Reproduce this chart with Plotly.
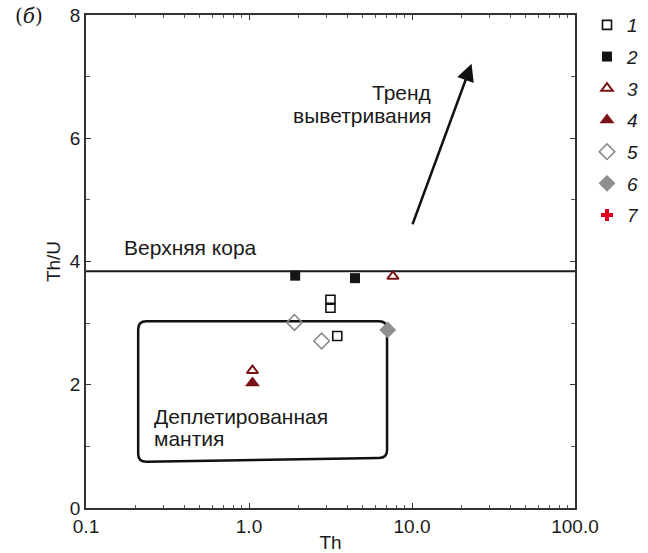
import plotly.graph_objects as go

# Th (ppm) and Th/U for each sample group
th_1 = [3.16, 3.16, 3.48]
thu_1 = [3.38, 3.25, 2.79]
th_2 = [1.92, 4.47]
thu_2 = [3.77, 3.73]
th_3 = [7.64, 1.05]
thu_3 = [3.76, 2.23]
th_4 = [1.05]
thu_4 = [2.03]
th_5 = [1.90, 2.79]
thu_5 = [3.01, 2.71]
th_6 = [7.10]
thu_6 = [2.89]
th_7 = [None]
thu_7 = [None]

group_names = ["1", "2", "3", "4", "5", "6", "7"]

# reference levels / annotation geometry (data units)
upper_crust_thu = 3.84
trend_start = (10.0, 4.58)
trend_end = (23.2, 7.21)
mantle_box_th = (0.209, 7.03)
mantle_box_thu_top = 3.03
mantle_box_thu_bottom = (0.75, 0.81)

x_tickvals = [0.1, 1, 10, 100]
x_ticktext = ["0.1", "1.0", "10.0", "100.0"]
y_tickvals = [0, 2, 4, 6, 8]

FONT = "Liberation Sans, Arial, sans-serif"
INK = "#1a1a1a"
DARKRED = "#7a1216"
GREY = "#8a8a8a"

styles = [
    dict(symbol="square-open", size=9, color="#111111", line=dict(width=1.6, color="#111111")),
    dict(symbol="square", size=10, color="#151515", line=dict(width=0)),
    dict(symbol="triangle-up-open", size=10, color=DARKRED, line=dict(width=2, color=DARKRED)),
    dict(symbol="triangle-up", size=13, color=DARKRED, line=dict(width=0)),
    dict(symbol="diamond-open", size=12, color=GREY, line=dict(width=1.6, color=GREY)),
    dict(symbol="diamond", size=13, color="#8f8f8f", line=dict(width=0)),
    dict(symbol="cross", size=10, color="#e3001b", line=dict(width=0)),
]
series = [(th_1, thu_1), (th_2, thu_2), (th_3, thu_3), (th_4, thu_4),
          (th_5, thu_5), (th_6, thu_6), (th_7, thu_7)]

fig = go.Figure()

# upper crust reference line across the full Th range
fig.add_trace(go.Scatter(
    x=[x_tickvals[0], x_tickvals[-1]], y=[upper_crust_thu, upper_crust_thu],
    mode="lines", line=dict(color="#1a1a1a", width=2), showlegend=False,
    hoverinfo="skip"))

for name, (xs, ys), st in zip(group_names, series, styles):
    fig.add_trace(go.Scatter(
        x=xs, y=ys, mode="markers", name="<i>%s</i>" % name,
        legendgroup=name, marker=st, cliponaxis=False))

# depleted mantle field: rounded box (path coordinates in Th data units)
x0, x1 = mantle_box_th
yt = mantle_box_thu_top
ybl, ybr = mantle_box_thu_bottom
kx, ry = 10 ** 0.05, 0.13
path = (
    f"M {x0 * kx},{yt} L {x1 / kx},{yt} Q {x1},{yt} {x1},{yt - ry} "
    f"L {x1},{ybr + ry} Q {x1},{ybr} {x1 / kx},{ybr} "
    f"L {x0 * kx},{ybl} Q {x0},{ybl} {x0},{ybl + ry} "
    f"L {x0},{yt - ry} Q {x0},{yt} {x0 * kx},{yt} Z"
)
fig.add_shape(type="path", path=path, xref="x", yref="y",
              line=dict(color="#111111", width=2.5), layer="below")

W, H = 648, 553
L, R, T, B = 86, 73, 15, 45
pw, ph = W - L - R, H - T - B


def to_paper(px, py):
    return (px - L) / pw, (H - B - py) / ph


txt = dict(family=FONT, size=21, color=INK)
# (text, x px, y px, horizontal anchor)
labels = [
    ("Тренд", 433, 92, "right"),
    ("выветривания", 433, 115, "right"),
    ("Верхняя кора", 122, 247, "left"),
    ("Деплетированная", 152, 416, "left"),
    ("мантия", 152, 438, "left"),
]

annotations = [
    # weathering trend arrow (log10 units on the log axis)
    dict(x=1.3655, y=trend_end[1], ax=1.0, ay=trend_start[1],
         xref="x", yref="y", axref="x", ayref="y", text="",
         showarrow=True, arrowhead=2, arrowsize=1.4, arrowwidth=2.5,
         arrowcolor="#111111", standoff=0),
]
for text, px, py, anchor in labels:
    xp, yp = to_paper(px, py)
    annotations.append(dict(x=xp, y=yp, xref="paper", yref="paper", text=text,
                            showarrow=False, xanchor=anchor, yanchor="middle", font=txt))
xp, yp = to_paper(13, 16)
annotations.append(dict(x=xp, y=yp, xref="paper", yref="paper", text="(<i>б</i>)",
                        showarrow=False, xanchor="left", yanchor="middle",
                        font=dict(family="DejaVu Serif, Liberation Serif, serif",
                                  size=20, color=INK)))

axis_common = dict(
    showline=True, linecolor="#333333", linewidth=1.5, mirror="allticks",
    ticks="inside", ticklen=5, tickwidth=1, tickcolor="#333333",
    showgrid=False, zeroline=False,
    tickfont=dict(family=FONT, size=19, color=INK),
)

lx, ly = to_paper(587, 6)

fig.update_layout(
    width=W, height=H,
    margin=dict(l=L, r=R, t=T, b=B, autoexpand=False),
    paper_bgcolor="white", plot_bgcolor="white",
    annotations=annotations,
    xaxis=dict(type="log", range=[-1, 2], tickvals=x_tickvals, ticktext=x_ticktext,
               minor=dict(ticks="inside", ticklen=3, dtick="D1", tickcolor="#555555"),
               title=dict(text="Th", font=dict(family=FONT, size=19, color=INK), standoff=2),
               **axis_common),
    yaxis=dict(range=[0, 8], tickvals=y_tickvals,
               minor=dict(ticks="inside", ticklen=4, dtick=1, tickcolor="#555555"),
               title=dict(text="Th/U", font=dict(family=FONT, size=19, color=INK), standoff=4),
               **axis_common),
    showlegend=True,
    legend=dict(x=lx, y=ly, xanchor="left", yanchor="top", tracegroupgap=4,
                font=dict(family=FONT, size=19, color=INK), bgcolor="rgba(0,0,0,0)"),
)

fig.write_html("out.html")
